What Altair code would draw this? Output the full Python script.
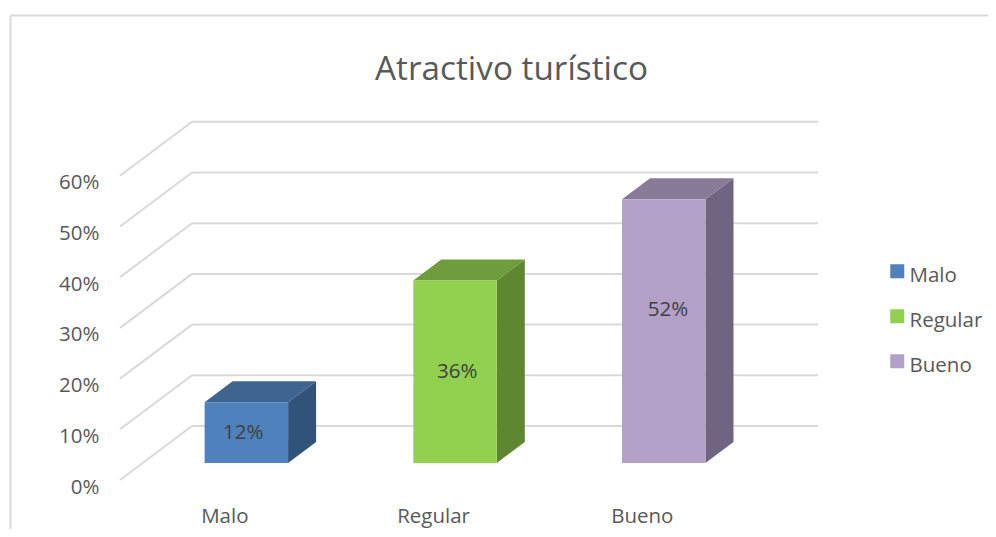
import altair as alt
import pandas as pd

title = "Atractivo turístico"
categories = ["Malo", "Regular", "Bueno"]
values = [12, 36, 52]
y_ticks = [0, 10, 20, 30, 40, 50, 60]
front_colors = ["#4f81bd", "#92d050", "#b2a0c7"]
top_colors = ["#3f648f", "#6f9c3c", "#877b97"]
side_colors = ["#31537a", "#5f8630", "#706580"]
grid_color = "#d9d9d9"
text_color = "#595959"
font = "Open Sans"

# projection of the 3-D box, in axis units
PX_X, PX_Y = 208.7, 5.07
WIDTH, HEIGHT = 700, 405
x_dom = [0, WIDTH / PX_X]
y_dom = [-25 / PX_Y, (HEIGHT - 25) / PX_Y]
back_dx, back_dy = 72 / PX_X, 54 / PX_Y
plane_dx, plane_dy = 22 / PX_X, 17 / PX_Y
box_dx, box_dy = 28 / PX_X, 21 / PX_Y
bar_w = 0.4
label_lift = [0, 0, 4.2]
label_shift = [-0.015, 0.01, 0.02]

x_scale = alt.Scale(domain=x_dom, nice=False, zero=False)
y_scale = alt.Scale(domain=y_dom, nice=False, zero=False)
n = len(categories)

grid_df = pd.DataFrame({"t": y_ticks})
grid_df["bx"] = back_dx
grid_df["ex"] = back_dx + n
grid_df["fx"] = 0.0
grid_df["by"] = grid_df["t"] + back_dy

bars = []
tops = []
sides = []
for i, (c, v) in enumerate(zip(categories, values)):
    x0 = i + 0.5 - bar_w / 2 + plane_dx
    x1 = x0 + bar_w
    y0 = plane_dy
    y1 = v + plane_dy
    bars.append(dict(cat=c, x0=x0, x1=x1, y0=y0, y1=y1, label=f"{v}%",
                     lx=(x0 + x1) / 2 + label_shift[i],
                     ly=(y0 + y1) / 2 + label_lift[i]))
    tops.append(dict(cat=c, col=top_colors[i], y=y1, a=x0, b=x1))
    tops.append(dict(cat=c, col=top_colors[i], y=y1 + box_dy, a=x0 + box_dx, b=x1 + box_dx))
    sides.append(dict(cat=c, col=side_colors[i], x=x1, lo=y0, hi=y1))
    sides.append(dict(cat=c, col=side_colors[i], x=x1 + box_dx, lo=y0 + box_dy, hi=y1 + box_dy))
bar_df = pd.DataFrame(bars)
top_df = pd.DataFrame(tops)
side_df = pd.DataFrame(sides)

label_expr = "{" + ",".join(f"'{i + 0.5}':'{c}'" for i, c in enumerate(categories)) + "}[datum.value]"
X = alt.X("x0:Q", scale=x_scale, title=None,
          axis=alt.Axis(values=[i + 0.5 for i in range(n)], labelExpr=label_expr, domain=False,
                        ticks=False, grid=False, labelFont=font, labelFontSize=20.5,
                        labelColor=text_color, labelPadding=1))
Y = alt.Y("y0:Q", scale=y_scale, title=None,
          axis=alt.Axis(values=y_ticks, format=".0f", labelExpr="datum.value + '%'", domain=False,
                        ticks=False, grid=False, labelFont=font, labelFontSize=20.5,
                        labelColor=text_color, labelPadding=21, labelOffset=7))

back = alt.Chart(grid_df).mark_rule(color=grid_color, strokeWidth=2).encode(
    x=alt.X("bx:Q", scale=x_scale), x2="ex:Q", y=alt.Y("by:Q", scale=y_scale))
diag = alt.Chart(grid_df).mark_rule(color=grid_color, strokeWidth=2).encode(
    x=alt.X("fx:Q", scale=x_scale), x2="bx:Q", y=alt.Y("t:Q", scale=y_scale), y2="by:Q")

side = alt.Chart(side_df).mark_area(orient="vertical").encode(
    x=alt.X("x:Q", scale=x_scale), y=alt.Y("lo:Q", scale=y_scale), y2="hi:Q",
    color=alt.Color("col:N", scale=None), detail="cat:N")
top = alt.Chart(top_df).mark_area(orient="horizontal").encode(
    y=alt.Y("y:Q", scale=y_scale), x=alt.X("a:Q", scale=x_scale), x2="b:Q",
    color=alt.Color("col:N", scale=None), detail="cat:N")
front = alt.Chart(bar_df).mark_bar().encode(
    x=X, x2="x1:Q", y=Y, y2="y1:Q",
    color=alt.Color("cat:N", sort=categories,
                    scale=alt.Scale(domain=categories, range=front_colors),
                    legend=alt.Legend(title=None, orient="none", legendX=767, legendY=166,
                                      symbolType="M-1,-1.714H1V0.286H-1Z", symbolSize=196,
                                      symbolStrokeWidth=0,
                                      labelFont=font, labelFontSize=20.5, labelColor=text_color,
                                      labelOffset=2, rowPadding=22)))
labels = alt.Chart(bar_df).mark_text(font=font, fontSize=20.5, color="#404040").encode(
    x=alt.X("lx:Q", scale=x_scale), y=alt.Y("ly:Q", scale=y_scale), text="label:N")

frame_l = alt.Chart(pd.DataFrame({"k": [0]})).mark_rule(color=grid_color, strokeWidth=2).encode(
    x=alt.value(-109.5), y=alt.value(-84.5), y2=alt.value(HEIGHT + 24))
frame_t = alt.Chart(pd.DataFrame({"k": [0]})).mark_rule(color=grid_color, strokeWidth=2).encode(
    y=alt.value(-84.5), x=alt.value(-109.5), x2=alt.value(WIDTH + 168))

chart = alt.layer(frame_l, frame_t, back, diag, side, top, front, labels).resolve_scale(
    color="independent"
).properties(
    width=WIDTH, height=HEIGHT,
    title=alt.TitleParams(title, font=font, fontSize=33.3, fontWeight="normal", color=text_color,
                          anchor="middle", dx=41.5, dy=92.5, offset=20),
    padding={"left": 112, "top": 92, "right": 168, "bottom": 24},
    autosize=alt.AutoSizeParams(type="none"),
).configure_view(stroke=None)

chart.save("out.html", embed_options={"renderer": "svg", "actions": False})
